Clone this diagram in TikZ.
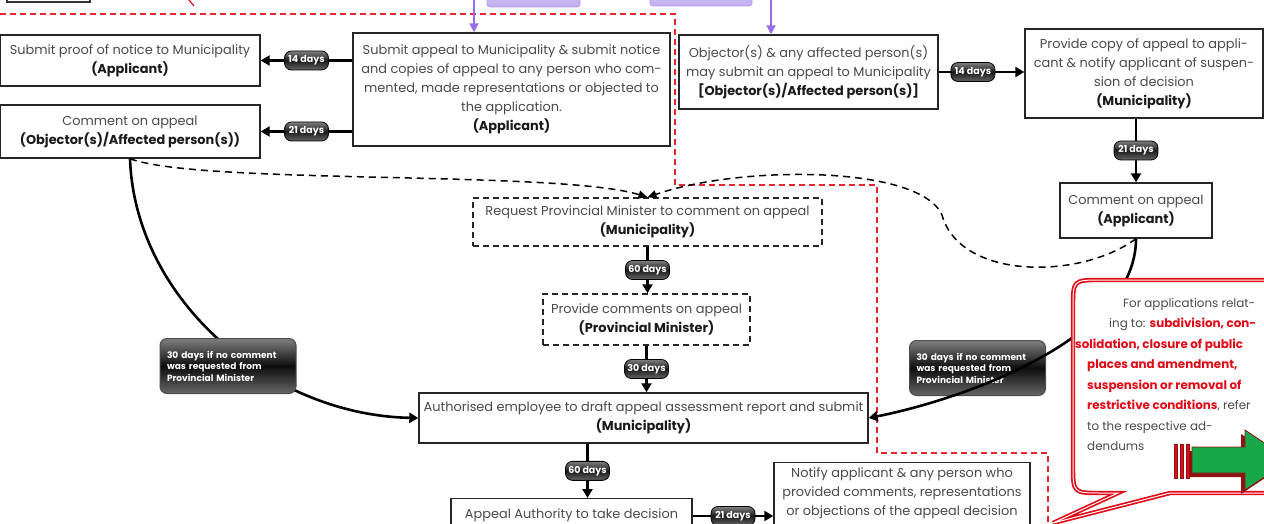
\documentclass[tikz,border=0pt]{standalone}
\usepackage{fontspec}
\setmainfont{Poppins}
\usepackage{tikz}
\usetikzlibrary{arrows.meta}

\definecolor{boxtext}{HTML}{4A4A4A}
\definecolor{boxbold}{HTML}{1A1A1A}
\definecolor{dividerred}{HTML}{E3262E}
\definecolor{calloutred}{HTML}{E30A17}
\definecolor{feedpurple}{HTML}{9A6BEB}
\definecolor{lavender}{HTML}{C2B0F0}
\definecolor{pointgreen}{HTML}{17A84A}
\definecolor{pointshade}{HTML}{8E1414}

\newcommand\party[1]{{\bfseries\color{boxbold}#1}}
\newcommand\redword[1]{{\bfseries\color{calloutred}#1}}

\begin{document}
\begin{tikzpicture}[x=1pt,y=-1pt,
    font=\fontsize{12.9}{19}\selectfont,
    stagebox/.style={draw=black!85, line width=1.4pt, fill=white, text=boxtext, align=center, inner sep=2pt},
    askbox/.style={stagebox, dash pattern=on 6pt off 4pt},
    flow/.style={line width=2.6pt, -{Triangle[length=9pt,width=10pt]}},
    maybe/.style={line width=1.5pt, dash pattern=on 7pt off 5pt, -{Triangle[length=9pt,width=8pt]}},
    feed/.style={draw=feedpurple, line width=2pt, -{Triangle[length=9pt,width=9pt]}},
    daypill/.style={draw=black, line width=0.8pt, rounded corners=7pt, top color=black!50, bottom color=black!60, middle color=black!90, text=white, font=\bfseries\fontsize{9.5}{10}\selectfont, minimum width=44pt, minimum height=19pt, inner sep=1pt},
    waitnote/.style={draw=black!70, line width=1pt, rounded corners=7pt, top color=black!50, bottom color=black!60, middle color=black!95, text=white, font=\bfseries\fontsize{9}{11.5}\selectfont, align=left, text width=122pt, minimum height=55pt, inner xsep=7pt},
    divider/.style={draw=dividerred, line width=1.4pt, dash pattern=on 6pt off 4pt},
    tab/.style={draw=feedpurple!70, line width=0.8pt, rounded corners=3pt, top color=lavender!50, bottom color=lavender},
    callout/.style={draw=calloutred, line width=1.7pt, double=white, double distance=1pt, fill=white}
  ]
    \useasboundingbox (0,0) rectangle (1264,524);
    \clip (0,0) rectangle (1264,524);

    \draw[black!80, line width=1.2pt] (7,-30) rectangle (90,2);
    \draw[calloutred, line width=1.2pt] (184,-6) -- (194,6);
    \draw[tab] (487,-30) rectangle (580,7);
    \draw[tab] (650,-30) rectangle (752,6);
    \draw[divider] (0,14) -- (675,14) -- (675,185) -- (877,185) -- (877,453) -- (1048,453) -- (1048,530);

    \node[stagebox, minimum width=260pt, minimum height=51pt] (proof) at (130,60.5)
      {Submit proof of notice to Municipality\\\party{(Applicant)}};
    \node[stagebox, minimum width=260pt, minimum height=53pt] (objcomment) at (130,131.5)
      {Comment on appeal\\\party{(Objector(s)/Affected person(s))}};
    \node[stagebox, minimum width=317pt, minimum height=113pt] (appeal) at (511.5,89.5)
      {Submit appeal to Municipality \& submit notice\\and copies of appeal to any person who com-\\mented, made representations or objected to\\the application.\\\party{(Applicant)}};
    \node[stagebox, minimum width=259pt, minimum height=74pt] (objappeal) at (808.5,72)
      {Objector(s) \& any affected person(s)\\may submit an appeal to Municipality\\\party{[Objector(s)/Affected person(s)]}};
    \node[stagebox, minimum width=238pt, minimum height=89pt] (copy) at (1144,73.5)
      {Provide copy of appeal to appli-\\cant \& notify applicant of suspen-\\sion of decision\\\party{(Municipality)}};
    \node[stagebox, minimum width=152pt, minimum height=55pt] (appcomment) at (1136,210.5)
      {Comment on appeal\\\party{(Applicant)}};
    \node[askbox, minimum width=349pt, minimum height=48pt] (request) at (647.5,222)
      {Request Provincial Minister to comment on appeal\\\party{(Municipality)}};
    \node[askbox, minimum width=207pt, minimum height=51pt] (ministercomment) at (646.5,319.5)
      {Provide comments on appeal\\\party{(Provincial Minister)}};
    \node[stagebox, minimum width=449pt, minimum height=50pt] (report) at (643.5,418)
      {Authorised employee to draft appeal assessment report and submit\\\party{(Municipality)}};
    \node[stagebox, anchor=north, minimum width=241pt, minimum height=52pt] (decision) at (571.5,498)
      {Appeal Authority to take decision\\\phantom{(A)}};
    \node[stagebox, anchor=north, minimum width=256pt, minimum height=80pt] (notify) at (902,462)
      {Notify applicant \& any person who\\provided comments, representations\\or objections of the appeal decision\\\phantom{(A)}};

    \coordinate (applicantfeed) at (474,-10);
    \coordinate (objectorfeed) at (771,-10);
    \draw[feed] (applicantfeed) -- (applicantfeed |- appeal.north);
    \draw[feed] (objectorfeed) -- (objectorfeed |- objappeal.north);

    \draw[flow] (appeal.west |- proof.east) -- node[daypill] {14 days} (proof.east);
    \draw[flow] (appeal.west |- objcomment.east) -- node[daypill] {21 days} (objcomment.east);
    \draw[flow] (objappeal.east) -- node[daypill, pos=0.4] {14 days} (objappeal.east -| copy.west);
    \draw[flow] (copy.south -| appcomment.north) -- node[daypill] {21 days} (appcomment.north);
    \draw[flow] (request.south) -- node[daypill] {60 days} (request.south |- ministercomment.north);
    \draw[flow] (ministercomment.south) -- node[daypill] {30 days} (ministercomment.south |- report.north);
    \coordinate (decisionin) at ([xshift=16pt]decision.north);
    \coordinate (decisionout) at ([yshift=-18pt]decision.north east);
    \draw[flow] (decisionin |- report.south) -- node[daypill] {60 days} (decisionin);
    \draw[flow] (decisionout) -- node[daypill] {21 days} (decisionout -| notify.west);

    \draw[maybe] (objcomment.south) .. controls (200,185) and (560,170) .. (request.north);
    \draw[maybe] (appcomment.south) .. controls (1080,280) and (960,280) .. (942,215)
      .. controls (920,165) and (740,165) .. (request.north);

    \draw[flow] (objcomment.south) .. controls (135,300) and (270,415) .. (report.west);
    \node[waitnote] (leftwait) at (228,366) {30 days if no comment\\was requested from\\Provincial Minister};
    \node[waitnote] (rightwait) at (977.5,368) {30 days if no comment\\was requested from\\Provincial Minister};
    \draw[flow] (appcomment.south) .. controls (1136,340) and (960,400) .. (report.east);

    \draw[callout] (1053,523) -- (1170,493) -- (1274,493) .. controls (1300,493) .. (1300,467)
      -- (1300,306) .. controls (1300,280) .. (1274,280) -- (1101,280) .. controls (1073,280) .. (1073,308)
      -- (1073,465) .. controls (1073,493) .. (1101,493) -- (1118,493) -- cycle;
    \node[anchor=north west, align=left, text=boxtext, inner sep=0pt,
      font=\fontsize{11.9}{20.5}\selectfont] (addenda) at (1087,298)
      {\hspace*{36pt}For applications relat-\\
       \hspace*{22pt}ing to: \redword{subdivision, con-}\\
       \hspace*{-12pt}\redword{solidation, closure of public}\\
       \redword{places and amendment,}\\
       \redword{suspension or removal of}\\
       \redword{restrictive conditions}, refer\\
       to the respective ad-\\
       dendums};

    \fill[pointshade] (1188,451) -- (1241,451) -- (1241,434) -- (1286,464) -- (1241,494) -- (1241,477) -- (1188,477) -- cycle;
    \draw[pointshade, fill=pointgreen, line width=0.8pt] (1192,447) -- (1245,447) -- (1245,430) -- (1290,460)
      -- (1245,490) -- (1245,473) -- (1192,473) -- cycle;
    \foreach \bx in {1174,1180,1186}
      \draw[pointshade, fill=calloutred, line width=0.6pt] (\bx,444) rectangle (\bx+3.5,478);
\end{tikzpicture}
\end{document}
